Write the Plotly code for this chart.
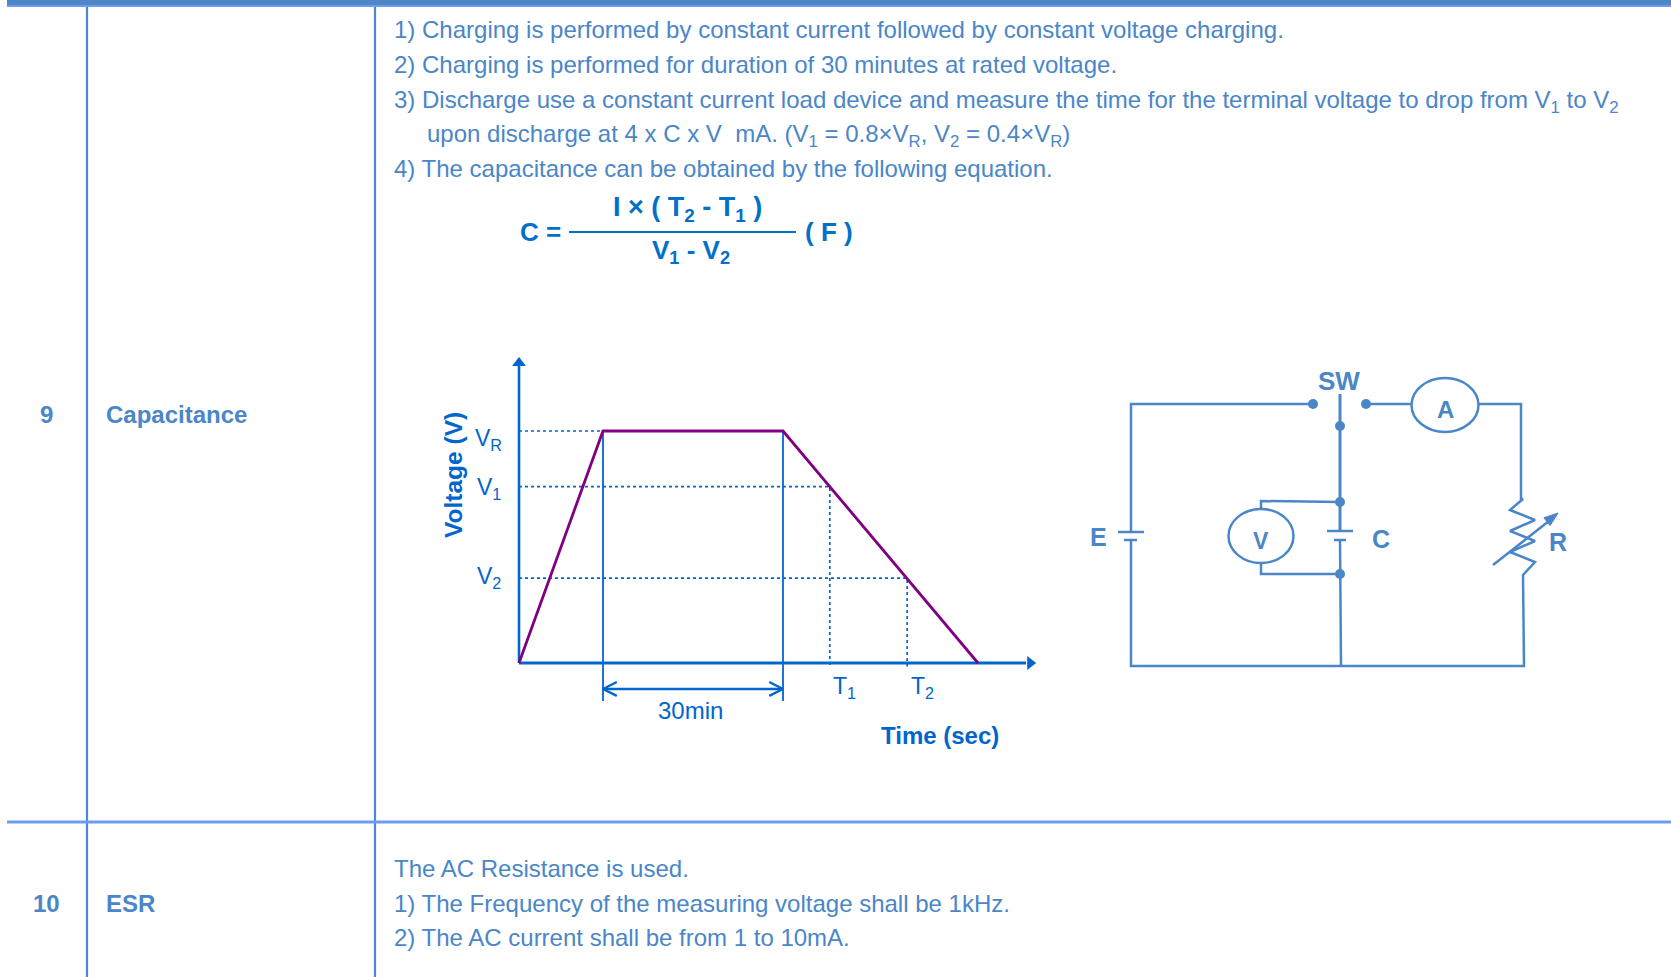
import plotly.graph_objects as go

W, H = 1671, 977
TEXT = "#4A86C8"
BLUE = "#0066CC"
PURPLE = "#800080"
FORMULA = "#0070C8"
FONT = "Liberation Sans"

# ---- chart values (time in minutes, voltage relative to V_R) ----
time_min = [0, 14, 44, 76.5]
voltage = [0, 1, 1, 0]
T_plateau = [14, 44]
T1, T2 = 51.8, 64.7
V_R, V1, V2 = 1.0, 0.76, 0.366
v_tick_labels = ["V<sub>R</sub>", "V<sub>1</sub>", "V<sub>2</sub>"]
t_tick_labels = ["T<sub>1</sub>", "T<sub>2</sub>"]

# ---- table text ----
rows = ["9", "10"]
items = ["Capacitance", "ESR"]
body_9 = [
    "1) Charging is performed by constant current followed by constant voltage charging.",
    "2) Charging is performed for duration of 30 minutes at rated voltage.",
    "3) Discharge use a constant current load device and measure the time for the terminal voltage to drop from V<sub>1</sub> to V<sub>2</sub>",
    "    upon discharge at 4 x C x V  mA. (V<sub>1</sub> = 0.8\u00d7V<sub>R</sub>, V<sub>2</sub> = 0.4\u00d7V<sub>R</sub>)",
    "4) The capacitance can be obtained by the following equation.",
]
body_10 = [
    "The AC Resistance is used.",
    "1) The Frequency of the measuring voltage shall be 1kHz.",
    "2) The AC current shall be from 1 to 10mA.",
]

# ---- circuit wiring ----
wires = [
    ([1313, 1131, 1131], [404, 404, 532]),
    ([1131, 1131, 1524, 1523, 1535, 1510, 1535, 1510, 1535, 1510, 1523, 1521, 1521, 1479],
     [540, 666, 666, 575, 562, 552, 541, 531, 520, 510, 499, 499, 404, 404]),
    ([1366, 1411], [404, 404]),
    ([1340, 1340], [394, 531]),
    ([1340, 1341], [540, 666]),
    ([1261, 1261, 1340], [509, 501, 502]),
    ([1261, 1261, 1340], [563, 574, 574]),
    ([1118, 1144], [532, 532]),
    ([1124, 1137], [540, 540]),
    ([1327, 1353], [531, 531]),
    ([1334, 1346], [540, 540]),
    ([1493, 1549], [565, 521]),
]
r_arrow_x = [1558, 1550.1, 1543.9, 1558]
r_arrow_y = [513, 525.6, 517.8, 513]
nodes_x = [1313, 1366, 1340, 1340, 1340]
nodes_y = [404, 404, 426, 502, 574]
meters = [(1445, 405, 33.5, 27), (1261, 536, 32.5, 27)]
circuit_labels = [("SW", 1339, 381, 26), ("A", 1445, 409, 24), ("V", 1261, 541, 23),
                  ("E", 1098, 537, 25), ("C", 1381, 539, 25), ("R", 1558, 542, 25)]

# ---- chart area placement on the page ----
X0, PX_PER_MIN = 519, 6.0
Y0, PX_PER_V = 663, 232.0
XL, XR, YT, YB = 440, 1060, 340, 720

fig = go.Figure()


def add_px(x, y, **kw):
    fig.add_trace(go.Scatter(x=x, y=y, xaxis="x", yaxis="y", hoverinfo="skip", showlegend=False, **kw))


def add_ch(x, y, **kw):
    fig.add_trace(go.Scatter(x=x, y=y, xaxis="x2", yaxis="y2", hoverinfo="skip", showlegend=False, **kw))


# circuit
for i, (wx, wy) in enumerate(wires):
    add_px(wx, wy, mode="lines", line=dict(color=TEXT, width=3 if i == 3 else 2.5))
add_px(nodes_x, nodes_y, mode="markers", marker=dict(color=TEXT, size=10))
add_px(r_arrow_x, r_arrow_y, mode="lines", fill="toself", fillcolor=TEXT, line=dict(color=TEXT, width=1))

# chart guides
dot = dict(color=BLUE, width=1.7, dash="dot")
add_ch([0, T_plateau[0]], [V_R, V_R], mode="lines", line=dot)
add_ch([0, T1, T1], [V1, V1, -0.015], mode="lines", line=dot)
add_ch([0, T2, T2], [V2, V2, -0.015], mode="lines", line=dot)
solid = dict(color=BLUE, width=1.8)
for t in T_plateau:
    add_ch([t, t], [V_R, -0.164], mode="lines", line=solid)

# 30 min span arrow
sy, cx, cy = -0.112, 2.3, 0.03
add_ch([T_plateau[0], T_plateau[1]], [sy, sy], mode="lines", line=dict(color=BLUE, width=2.4))
add_ch([T_plateau[0] + cx, T_plateau[0], T_plateau[0] + cx], [sy + cy, sy, sy - cy],
       mode="lines", line=dict(color=BLUE, width=2.4))
add_ch([T_plateau[1] - cx, T_plateau[1], T_plateau[1] - cx], [sy + cy, sy, sy - cy],
       mode="lines", line=dict(color=BLUE, width=2.4))

# chart axes with arrows
add_ch([0, 84.5], [0, 0], mode="lines", line=dict(color=BLUE, width=2.8))
add_ch([0, 0], [0, 1.28], mode="lines", line=dict(color=BLUE, width=2.6))
add_ch([85.2], [0], mode="markers", marker=dict(color=BLUE, size=12, symbol="triangle-right"))
add_ch([0], [1.293], mode="markers", marker=dict(color=BLUE, size=12, symbol="triangle-up"))

# charge / discharge curve
add_ch(time_min, voltage, mode="lines", line=dict(color=PURPLE, width=2.8))

ann = []


def label(text, x, y, size, color=TEXT, bold=False, anchor="center", angle=0, xref="x", yref="y"):
    ann.append(dict(text=f"<b>{text}</b>" if bold else text, x=x, y=y, xref=xref, yref=yref,
                    showarrow=False, xanchor=anchor, yanchor="middle", textangle=angle, borderpad=0,
                    font=dict(family=FONT, size=size, color=color)))


# table text
for r, it, py in zip(rows, items, [414, 903]):
    label(r, 46, py, 24, bold=True)
    label(it, 105, py, 24, bold=True, anchor="left")
for line, py in zip(body_9, [29, 64, 101.5, 135.5, 168]):
    label(line.strip(), 426 if line.startswith(" ") else 393, py, 24, anchor="left")
for line, py in zip(body_10, [868.5, 903, 937.5]):
    label(line, 393, py, 24, anchor="left")

# formula
label("C =", 540, 232, 26, FORMULA, True)
label("I \u00d7 ( T<sub>2</sub> - T<sub>1</sub> )", 687, 209, 27, FORMULA, True)
label("V<sub>1</sub> - V<sub>2</sub>", 691, 251, 26, FORMULA, True)
label("( F )", 829, 232, 26, FORMULA, True)

# chart text
label("Voltage (V)", 453, 475, 24.5, BLUE, True, angle=-90)
label("Time (sec)", 940, 735, 24, BLUE, True)
label("30min", 690.5, 710, 24, BLUE)
for txt, v, yoff in zip(v_tick_labels, [V_R, V1, V2], [8, 2, -1]):
    ann.append(dict(text=txt, x=-5, y=v, xref="x2", yref="y2", showarrow=False, yshift=-yoff,
                    font=dict(family=FONT, size=23, color=BLUE), borderpad=0))
for txt, t in zip(t_tick_labels, [T1, T2]):
    ann.append(dict(text=txt, x=t + 2.5, y=-0.107, xref="x2", yref="y2", showarrow=False,
                    font=dict(family=FONT, size=23, color=BLUE), borderpad=0))

# circuit text
for txt, x, y, s in circuit_labels:
    label(txt, x, y, s, bold=True)

# table rules and meter outlines
shapes = [
    dict(type="rect", x0=7, x1=W, y0=0, y1=5, fillcolor="#4F86C6", line_width=0, xref="x", yref="y"),
    dict(type="rect", x0=7, x1=W, y0=5, y1=7, fillcolor="#6C9CF0", line_width=0, xref="x", yref="y"),
    dict(type="line", x0=87, x1=87, y0=7, y1=H, line=dict(color="#4F86D0", width=2.2), xref="x", yref="y"),
    dict(type="line", x0=375, x1=375, y0=7, y1=H, line=dict(color="#4F86D0", width=2.2), xref="x", yref="y"),
    dict(type="line", x0=7, x1=W, y0=822, y1=822, line=dict(color="#6C9CF0", width=3), xref="x", yref="y"),
    dict(type="line", x0=569, x1=796, y0=232, y1=232, line=dict(color=FORMULA, width=2), xref="x", yref="y"),
]
for cx_, cy_, rx, ry in meters:
    shapes.append(dict(type="circle", x0=cx_ - rx, x1=cx_ + rx, y0=cy_ - ry, y1=cy_ + ry,
                       line=dict(color=TEXT, width=2.5), xref="x", yref="y"))

hidden = dict(visible=False, fixedrange=True)
fig.update_layout(
    width=W, height=H, margin=dict(l=0, r=0, t=0, b=0), autosize=False,
    font=dict(family=FONT, size=24, color=TEXT),
    paper_bgcolor="white", plot_bgcolor="rgba(0,0,0,0)", showlegend=False,
    xaxis=dict(range=[0, W], domain=[0, 1], **hidden),
    yaxis=dict(range=[H, 0], domain=[0, 1], **hidden),
    xaxis2=dict(range=[(XL - X0) / PX_PER_MIN, (XR - X0) / PX_PER_MIN], domain=[XL / W, XR / W],
                anchor="y2", **hidden),
    yaxis2=dict(range=[(Y0 - YB) / PX_PER_V, (Y0 - YT) / PX_PER_V], domain=[1 - YB / H, 1 - YT / H],
                anchor="x2", **hidden),
    shapes=shapes, annotations=ann,
)
fig.write_html("out.html", config={"displayModeBar": False},
               post_script="document.body.style.margin='0';document.documentElement.style.overflow='hidden';")
